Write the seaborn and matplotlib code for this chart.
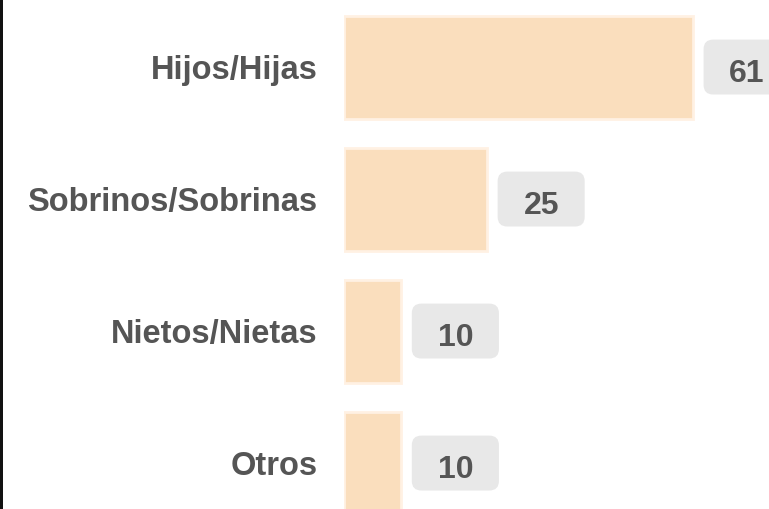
import matplotlib
matplotlib.use("Agg")
import matplotlib.pyplot as plt
import pandas as pd
import seaborn as sns
from matplotlib.patches import Rectangle

categories = ["Hijos/Hijas", "Sobrinos/Sobrinas", "Nietos/Nietas", "Otros"]
values = [61, 25, 10, 10]

BAR_COLOR = "#FADEBD"
EDGE_COLOR = "#FFF1E3"
TEXT_COLOR = "#555555"
BOX_COLOR = "#E8E8E8"

df = pd.DataFrame({"categoria": categories, "valor": values})

sns.set_style("white")
plt.rcParams["font.family"] = ["Liberation Sans", "DejaVu Sans"]

fig = plt.figure(figsize=(7.69, 5.09), dpi=100)
ax = fig.add_axes([344 / 769, 0, 425 / 769, 1])

sns.barplot(data=df, x="valor", y="categoria", ax=ax, color=BAR_COLOR,
            edgecolor=EDGE_COLOR, linewidth=2, width=0.78, saturation=1)

ax.set_xlim(0, 74.3)
ax.set_ylim(3.348, -0.508)
ax.set_xlabel("")
ax.set_ylabel("")
ax.set_xticks([])
ax.tick_params(axis="y", length=0, pad=19, labelsize=23.5, labelcolor=TEXT_COLOR)
for lbl in ax.get_yticklabels():
    lbl.set_fontweight("bold")
sns.despine(ax=ax, left=True, bottom=True)

# value labels: grey rounded box, then the number on top of it
for i, v in enumerate(values):
    ax.annotate(f" {v}  ", xy=(v, i), xytext=(39, 0), textcoords="offset points",
                ha="center", va="center", fontsize=23, fontweight="bold",
                color="none",
                bbox=dict(boxstyle="round,pad=0.39,rounding_size=0.3",
                          fc=BOX_COLOR, ec="none"))
    ax.annotate(str(v), xy=(v, i), xytext=(39, -11), textcoords="offset points",
                ha="center", va="baseline", fontsize=23, fontweight="bold",
                color=TEXT_COLOR)

# dark frame edge on the left
fig.add_artist(Rectangle((0, 0), 3 / 769, 1, transform=fig.transFigure,
                         color="#111111", lw=0))

fig.savefig("out.png", dpi=100)
plt.close(fig)
